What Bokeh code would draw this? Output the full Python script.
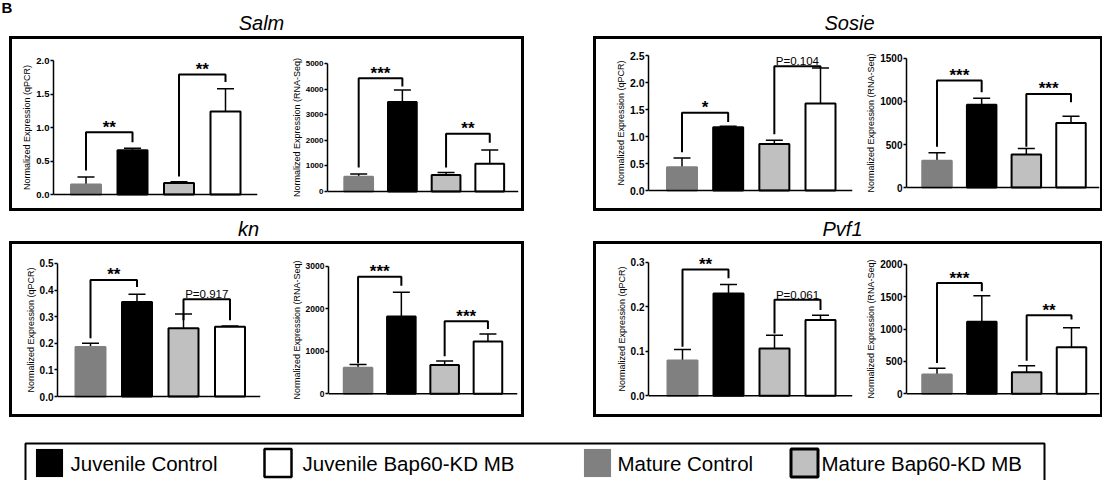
from bokeh.plotting import figure
from bokeh.layouts import row, column
from bokeh.models import Range1d, FixedTicker, Spacer, ColumnDataSource, Whisker, TeeHead, Span
from bokeh.embed import file_html
from bokeh.resources import INLINE
from bokeh.core.properties import value

FONT = "Liberation Sans"

# ---------------- data ----------------
groups = ["Mature Control", "Juvenile Control", "Mature Bap60-KD MB", "Juvenile Bap60-KD MB"]
group_fill = ["#808080", "#000000", "#c0c0c0", "#ffffff"]
group_line = ["#808080", "#000000", "#000000", "#000000"]
bar_pos = [1, 2, 3, 4]

genes = ["Salm", "Sosie", "kn", "Pvf1"]
qpcr_label = "Normalized Expression (qPCR)"
rna_label = "Normalized Expression (RNA-Seq)"

salm_qpcr = [0.15, 0.66, 0.17, 1.24]
salm_qpcr_sem = [0.11, 0.03, 0.02, 0.34]
salm_rna = [580, 3490, 644, 1082]
salm_rna_sem = [103, 477, 103, 542]

sosie_qpcr = [0.43, 1.17, 0.86, 1.61]
sosie_qpcr_sem = [0.17, 0.02, 0.07, 0.66]
sosie_rna = [312, 962, 385, 750]
sosie_rna_sem = [92, 76, 69, 77]

kn_qpcr = [0.186, 0.355, 0.257, 0.262]
kn_qpcr_sem = [0.014, 0.029, 0.053, 0.003]
kn_rna = [615, 1815, 677, 1231]
kn_rna_sem = [77, 570, 92, 177]

pvf1_qpcr = [0.079, 0.230, 0.106, 0.170]
pvf1_qpcr_sem = [0.025, 0.020, 0.030, 0.011]
pvf1_rna = [296, 1112, 332, 719]
pvf1_rna_sem = [97, 403, 102, 301]

# significance: (bar a, bar b, bracket height, left end, right end, label)
salm_qpcr_sig = [(1, 2, 0.93, 0.36, 0.78, "**"), (3, 4, 1.79, 0.27, 1.68, "**")]
salm_rna_sig = [(1, 2, 4420, 940, 4098, "***"), (3, 4, 2255, 940, 1907, "**")]
sosie_qpcr_sig = [(1, 2, 1.44, 0.71, 1.27, "*"), (3, 4, 2.30, 1.04, 2.27, "P=0.104")]
sosie_rna_sig = [(1, 2, 1242, 473, 1108, "***"), (3, 4, 1088, 473, 992, "***")]
kn_qpcr_sig = [(1, 2, 0.438, 0.219, 0.411, "**"), (3, 4, 0.365, 0.287, 0.287, "P=0.917")]
kn_rna_sig = [(1, 2, 2754, 720, 2538, "***"), (3, 4, 1708, 885, 1523, "***")]
pvf1_qpcr_sig = [(1, 2, 0.284, 0.11, 0.264, "**"), (3, 4, 0.216, 0.14, 0.193, "P=0.061")]
pvf1_rna_sig = [(1, 2, 1709, 474, 1582, "***"), (3, 4, 1214, 510, 1148, "**")]

salm_qpcr_ticks = [0, 0.5, 1.0, 1.5, 2.0]
salm_qpcr_ticklabels = ["0.0", "0.5", "1.0", "1.5", "2.0"]
salm_rna_ticks = [0, 1000, 2000, 3000, 4000, 5000]
salm_rna_ticklabels = ["0", "1000", "2000", "3000", "4000", "5000"]
sosie_qpcr_ticks = [0, 0.5, 1.0, 1.5, 2.0, 2.5]
sosie_qpcr_ticklabels = ["0.0", "0.5", "1.0", "1.5", "2.0", "2.5"]
sosie_rna_ticks = [0, 500, 1000, 1500]
sosie_rna_ticklabels = ["0", "500", "1000", "1500"]
kn_qpcr_ticks = [0, 0.1, 0.2, 0.3, 0.4, 0.5]
kn_qpcr_ticklabels = ["0.0", "0.1", "0.2", "0.3", "0.4", "0.5"]
kn_rna_ticks = [0, 1000, 2000, 3000]
kn_rna_ticklabels = ["0", "1000", "2000", "3000"]
pvf1_qpcr_ticks = [0, 0.1, 0.2, 0.3]
pvf1_qpcr_ticklabels = ["0.0", "0.1", "0.2", "0.3"]
pvf1_rna_ticks = [0, 500, 1000, 1500, 2000]
pvf1_rna_ticklabels = ["0", "500", "1000", "1500", "2000"]

legend_order = [1, 3, 0, 2]

# ---------------- layout (page pixels) ----------------
TOP = (39, 208)
BOT = (244, 414)
geo = {
    "salm_q": dict(canvas=(12, 288) + TOP, axis_x=53, x_end=257, y0=194, ytop_px=60, centers=[85.5, 132.5, 179, 225], bar_px=30, tick_fs="9.5px"),
    "salm_r": dict(canvas=(288, 521) + TOP, axis_x=322, x_end=518, y0=191, ytop_px=62, centers=[354, 399, 443.5, 488.5], bar_px=29.5, tick_fs="8px"),
    "sosie_q": dict(canvas=(596, 860) + TOP, axis_x=648, x_end=852, y0=190, ytop_px=55, centers=[681.5, 728, 774, 820], bar_px=30, tick_fs="10.5px"),
    "sosie_r": dict(canvas=(860, 1100) + TOP, axis_x=906, x_end=1100, y0=188, ytop_px=58, centers=[936.5, 981.5, 1026.5, 1070.5], bar_px=29.5, tick_fs="10px"),
    "kn_q": dict(canvas=(12, 288) + BOT, axis_x=57, x_end=260, y0=397, ytop_px=263, centers=[90, 137, 183, 229.5], bar_px=30, tick_fs="10px"),
    "kn_r": dict(canvas=(288, 521) + BOT, axis_x=322, x_end=517, y0=393, ytop_px=263, centers=[352.5, 397.5, 442.5, 486.5], bar_px=29.5, tick_fs="8.5px"),
    "pvf1_q": dict(canvas=(596, 860) + BOT, axis_x=648, x_end=852, y0=395, ytop_px=260, centers=[682, 728, 774.5, 820], bar_px=30, tick_fs="10px"),
    "pvf1_r": dict(canvas=(860, 1100) + BOT, axis_x=906, x_end=1100, y0=395, ytop_px=264, centers=[936.5, 981.5, 1026.5, 1071], bar_px=29.5, tick_fs="10px"),
}


def subplot(means, sems, sig, ticks, ticklabels, ylabel, g):
    L, R, T, B = g["canvas"]
    ax = g["axis_x"]
    xe = min(g["x_end"], R - 1)
    y0, ytp = g["y0"], g["ytop_px"]
    c = g["centers"]
    s = (c[3] - c[0]) / 3.0
    xr = Range1d(1 - (c[0] - ax) / s, 4 + (xe - c[3]) / s)
    ytop = ticks[-1]
    ppu = (y0 - ytp) / ytop
    d = min(ytp - T, B - y0 - 1)
    yr = Range1d(-d / ppu, ytop + d / ppu)
    p = figure(width=R - L, height=B - T, x_range=xr, y_range=yr,
               output_backend="svg", toolbar_location=None,
               min_border_left=ax - L, min_border_right=R - xe,
               min_border_top=ytp - d - T, min_border_bottom=B - (y0 + d))
    p.outline_line_color = None
    p.xgrid.visible = False
    p.ygrid.visible = False
    p.xaxis.visible = False
    p.background_fill_color = "white"
    p.border_fill_color = "white"

    # x axis line at zero
    p.add_layout(Span(location=0, dimension="width", line_color="black", line_width=1.5))

    src = ColumnDataSource(dict(
        x=bar_pos, top=means, upper=[m + e for m, e in zip(means, sems)],
        fill=group_fill, line=group_line))
    p.vbar(x="x", top="top", bottom=0, width=g["bar_px"] / s, source=src,
           fill_color="fill", line_color="line", line_width=2)
    p.add_layout(Whisker(base="x", lower="top", upper="upper", source=src,
                         dimension="height", line_width=1.5, line_color="black",
                         upper_head=TeeHead(size=17, line_width=1.5, line_color="black"),
                         lower_head=None))

    xs = [[a, a, b, b] for (a, b, h, l, r, t) in sig]
    ys = [[l, h, h, r] for (a, b, h, l, r, t) in sig]
    p.multi_line(xs, ys, line_width=2, line_color="black")
    stars = [(0.5 * (a + b), h, t) for (a, b, h, l, r, t) in sig if t.startswith("*")]
    pvals = [(0.5 * (a + b), h, t) for (a, b, h, l, r, t) in sig if not t.startswith("*")]
    if stars:
        p.text([q[0] for q in stars], [q[1] for q in stars], text=[q[2] for q in stars],
               text_align="center", text_baseline="middle", y_offset=-5,
               text_font=value(FONT), text_font_style="bold", text_font_size="17px",
               text_color="black")
    if pvals:
        p.text([q[0] for q in pvals], [q[1] for q in pvals], text=[q[2] for q in pvals],
               text_align="center", text_baseline="middle", y_offset=-5,
               text_font=value(FONT), text_font_size="11.5px", text_color="black")

    yax = p.yaxis[0]
    yax.ticker = FixedTicker(ticks=ticks, minor_ticks=[])
    yax.major_label_overrides = {t: lab for t, lab in zip(ticks, ticklabels)}
    yax.bounds = (0, ytop)
    yax.major_tick_out = 3
    yax.major_tick_in = 0
    yax.minor_tick_line_color = None
    yax.axis_line_width = 1.5
    yax.axis_line_color = "black"
    yax.major_tick_line_width = 1.5
    yax.major_tick_line_color = "black"
    yax.major_label_text_font = FONT
    yax.major_label_text_font_style = "bold"
    yax.major_label_text_font_size = g["tick_fs"]
    yax.major_label_text_color = "black"
    yax.major_label_standoff = 1
    yax.axis_label = ylabel
    yax.axis_label_text_font = FONT
    yax.axis_label_text_font_style = "normal"
    yax.axis_label_text_font_size = "9px"
    yax.axis_label_text_color = "black"
    yax.axis_label_standoff = 1
    return p


def strip(height, y_top):
    p = figure(width=1100, height=height, x_range=Range1d(0, 1100),
               y_range=Range1d(y_top + height, y_top),
               output_backend="svg", toolbar_location=None,
               x_axis_type=None, y_axis_type=None, min_border=0)
    p.outline_line_color = None
    p.background_fill_alpha = 0
    p.border_fill_alpha = 0
    return p


def title_text(p, xs, ys, texts):
    p.text(xs, ys, text=texts, text_align="center", text_baseline="middle",
           text_font=value(FONT), text_font_style="italic", text_font_size="20px",
           text_color="black")


BOX = {"outline": "3px solid black"}

f_salm_q = subplot(salm_qpcr, salm_qpcr_sem, salm_qpcr_sig, salm_qpcr_ticks, salm_qpcr_ticklabels, qpcr_label, geo["salm_q"])
f_salm_r = subplot(salm_rna, salm_rna_sem, salm_rna_sig, salm_rna_ticks, salm_rna_ticklabels, rna_label, geo["salm_r"])
f_sosie_q = subplot(sosie_qpcr, sosie_qpcr_sem, sosie_qpcr_sig, sosie_qpcr_ticks, sosie_qpcr_ticklabels, qpcr_label, geo["sosie_q"])
f_sosie_r = subplot(sosie_rna, sosie_rna_sem, sosie_rna_sig, sosie_rna_ticks, sosie_rna_ticklabels, rna_label, geo["sosie_r"])
f_kn_q = subplot(kn_qpcr, kn_qpcr_sem, kn_qpcr_sig, kn_qpcr_ticks, kn_qpcr_ticklabels, qpcr_label, geo["kn_q"])
f_kn_r = subplot(kn_rna, kn_rna_sem, kn_rna_sig, kn_rna_ticks, kn_rna_ticklabels, rna_label, geo["kn_r"])
f_pvf1_q = subplot(pvf1_qpcr, pvf1_qpcr_sem, pvf1_qpcr_sig, pvf1_qpcr_ticks, pvf1_qpcr_ticklabels, qpcr_label, geo["pvf1_q"])
f_pvf1_r = subplot(pvf1_rna, pvf1_rna_sem, pvf1_rna_sig, pvf1_rna_ticks, pvf1_rna_ticklabels, rna_label, geo["pvf1_r"])

# title strips (baselines: 29 and 235; text centred with "middle")
top_strip = strip(39, 0)
top_strip.text([1], [7], text=["B"], text_align="left", text_baseline="middle",
               text_font=value(FONT), text_font_style="bold", text_font_size="15px")
title_text(top_strip, [261, 849], [22, 22], [genes[0], genes[1]])
mid_strip = strip(36, 208)
title_text(mid_strip, [248, 842], [228, 228], [genes[2], genes[3]])

# legend strip
leg = strip(66, 414)
leg.multi_line([[25, 25, 1044, 1044]], [[500, 443, 443, 500]], line_width=2, line_color="black")
sw_x = [49, 277.5, 597, 804]
txt_x = [70, 302, 617, 821]
leg_fill = [group_fill[i] for i in legend_order]
leg_line = ["#000000", "#000000", "#808080", "#000000"]
leg_lw = [0.1, 2.5, 0.1, 3]
leg.rect(sw_x, [462.5] * 4, width=27, height=28, fill_color=leg_fill, line_color=leg_line, line_width=leg_lw)
leg.text(txt_x, [463] * 4, text=[groups[i] for i in legend_order], text_align="left",
         text_baseline="middle", text_font=value(FONT), text_font_size="20.5px", text_color="black")

row_top = row(Spacer(width=12, height=169),
              row(f_salm_q, f_salm_r, styles=BOX),
              Spacer(width=75, height=169),
              row(f_sosie_q, f_sosie_r, styles=BOX))
row_bot = row(Spacer(width=12, height=170),
              row(f_kn_q, f_kn_r, styles=BOX),
              Spacer(width=75, height=170),
              row(f_pvf1_q, f_pvf1_r, styles=BOX))

page = column(top_strip, row_top, mid_strip, row_bot, leg)

open("out.html", "w").write(file_html(page, INLINE))
